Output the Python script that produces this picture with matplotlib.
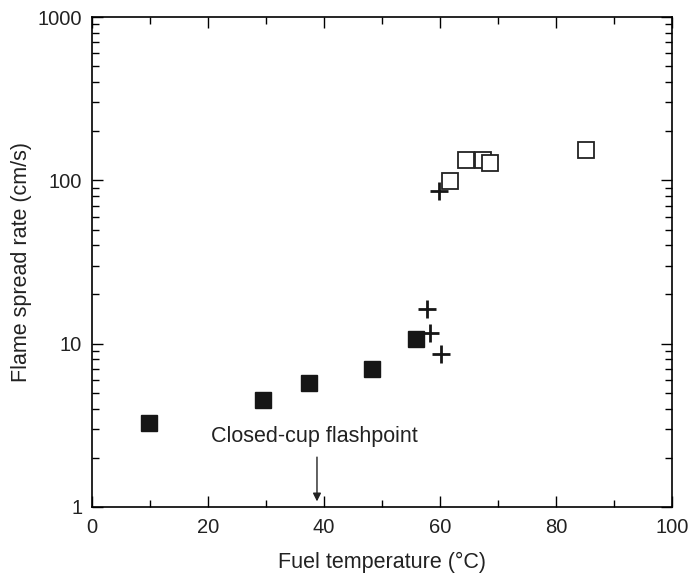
import numpy as np
import matplotlib.pyplot as plt
from matplotlib.ticker import MultipleLocator, LogLocator, NullFormatter, FixedLocator

plt.rcParams['font.family'] = ['Liberation Sans', 'DejaVu Sans']

# Data
below_temp = [9.9, 29.5, 37.4, 48.3, 55.9]
below_rate = [3.28, 4.52, 5.77, 6.97, 10.7]

cross_temp = [57.8, 58.2, 60.1, 59.9]
cross_rate = [16.2, 11.7, 8.65, 86.1]

above_temp = [61.8, 64.5, 67.4, 68.6, 85.1]
above_rate = [99.6, 133, 133, 127, 153]

flash_temp = 38.8

fig = plt.figure(figsize=(6.91, 5.79), dpi=100)
ax = fig.add_axes([0.133, 0.1244, 0.8395, 0.8462])

ax.plot(below_temp, below_rate, 's', color='#161616', ms=11, mec='#161616')
ax.plot(above_temp, above_rate, 's', mfc='white', mec='#222222', ms=11, mew=1.3)
ax.plot(cross_temp, cross_rate, '+', color='#161616', ms=13, mew=2)

ax.set_yscale('log')
ax.set_xlim(0, 100)
ax.set_ylim(1, 1000)

ax.xaxis.set_major_locator(MultipleLocator(20))
ax.xaxis.set_minor_locator(MultipleLocator(10))
ax.yaxis.set_major_locator(FixedLocator([1, 10, 100, 1000]))
ax.yaxis.set_major_formatter(plt.FuncFormatter(lambda v, p: f"{int(v)}"))
ax.yaxis.set_minor_locator(LogLocator(base=10, subs=np.arange(2, 10)))
ax.yaxis.set_minor_formatter(NullFormatter())

ax.tick_params(which='both', direction='in', top=True, right=True, labelsize=14.5,
               width=1, labelcolor='#222222')
ax.tick_params(axis='y', pad=7)
ax.tick_params(axis='x', pad=8)
ax.tick_params(which='major', length=8)
ax.tick_params(which='minor', length=5)
for s in ax.spines.values():
    s.set_linewidth(1.2)

ax.set_xlabel('Fuel temperature (°C)', fontsize=15.5, labelpad=11, color='#222222')
ax.set_ylabel('Flame spread rate (cm/s)', fontsize=15.5, labelpad=4, color='#222222')

ax.text(flash_temp - 0.5, 2.7, 'Closed-cup flashpoint', ha='center', va='center',
        fontsize=15.5, color='#222222')
ax.annotate('', xy=(flash_temp, 1.04), xytext=(flash_temp, 2.1),
            arrowprops=dict(arrowstyle='-|>', color='#222222', lw=1, mutation_scale=12))

fig.savefig('out.png', dpi=100)
